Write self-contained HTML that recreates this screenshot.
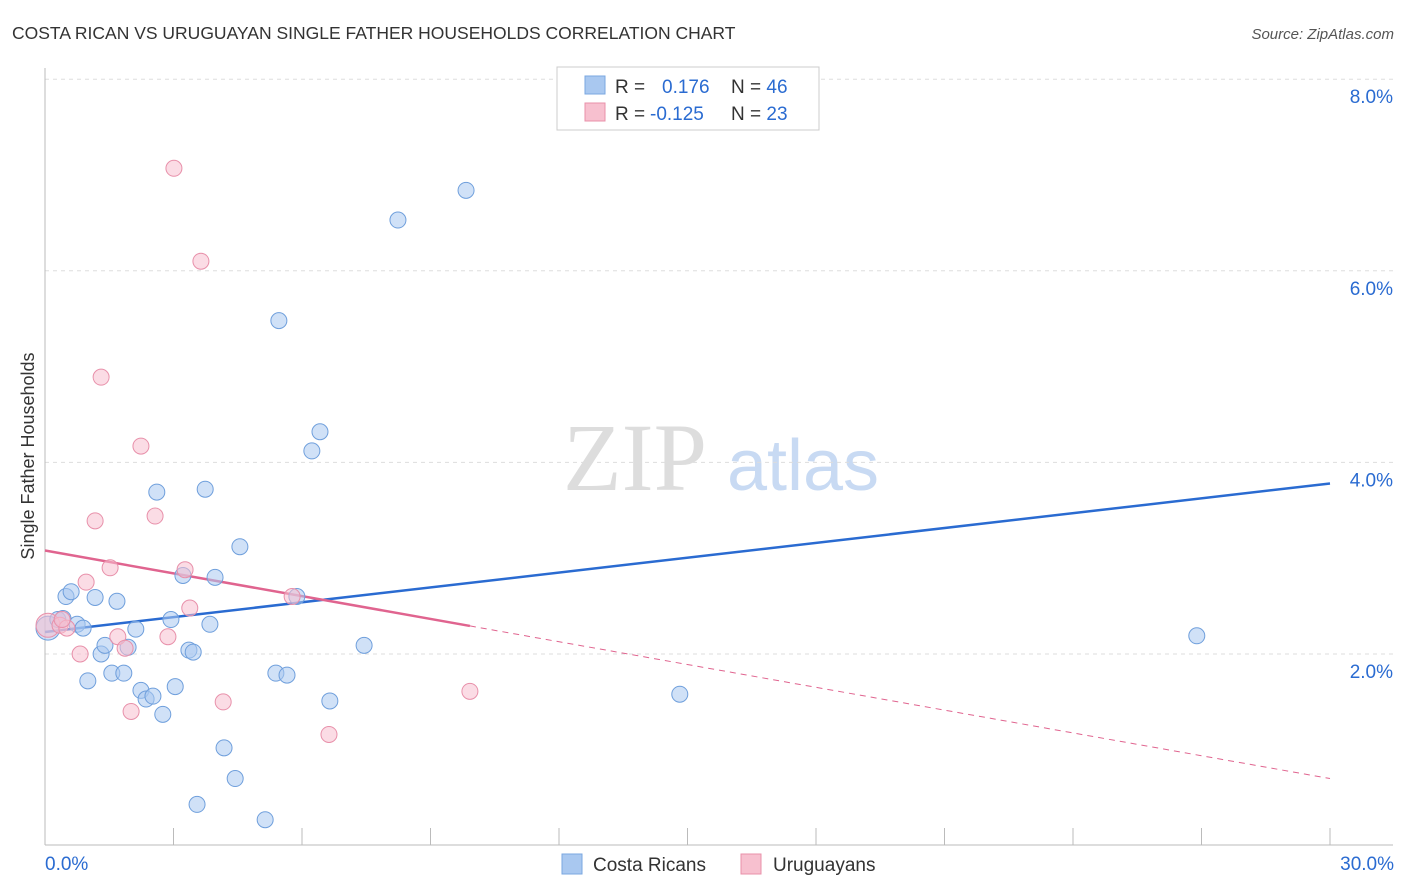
<!DOCTYPE html>
<html><head><meta charset="utf-8"><style>
body{margin:0;background:#fff;font-family:"Liberation Sans",sans-serif;}
svg{display:block}
</style></head><body>
<svg id="chart" width="1406" height="892" viewBox="0 0 1406 892">
<text x="12" y="39" font-size="17.5" fill="#333">COSTA RICAN VS URUGUAYAN SINGLE FATHER HOUSEHOLDS CORRELATION CHART</text>
<text x="1394" y="39" font-size="15" fill="#555" text-anchor="end" font-style="italic">Source: ZipAtlas.com</text>
<g>
<text x="635" y="490" font-size="96" fill="#ddd" font-family="Liberation Serif,serif" text-anchor="middle">ZIP</text>
<text x="803" y="490" font-size="72" fill="#c8daf3" text-anchor="middle">atlas</text>
</g>
<g id="grid"></g><g id="axes"></g><g id="trend"></g><g id="points"></g>
<text transform="translate(34,456) rotate(-90)" font-size="18" fill="#333" text-anchor="middle">Single Father Households</text>
<g>
<rect x="557" y="67" width="262" height="63" fill="#fff" stroke="#ccc"/>
<rect x="585" y="76" width="20" height="18" fill="#a9c8f0" stroke="#7aa7e0"/>
<rect x="585" y="103" width="20" height="18" fill="#f7c0cf" stroke="#e890aa"/>
<text x="615" y="93" font-size="19" fill="#333">R = <tspan fill="#2a6bd1" x="662">0.176</tspan><tspan x="731" fill="#333">N = </tspan><tspan fill="#2a6bd1">46</tspan></text>
<text x="615" y="120" font-size="19" fill="#333">R = <tspan fill="#2a6bd1" x="650">-0.125</tspan><tspan x="731" fill="#333">N = </tspan><tspan fill="#2a6bd1">23</tspan></text>
</g>
<g>
<rect x="562" y="854" width="20" height="20" fill="#a9c8f0" stroke="#7aa7e0"/>
<text x="593" y="871" font-size="19" fill="#333">Costa Ricans</text>
<rect x="741" y="854" width="20" height="20" fill="#f7c0cf" stroke="#e890aa"/>
<text x="773" y="871" font-size="19" fill="#333">Uruguayans</text>
</g>
</svg>
<script>
const blueX=[0.07,0.30,0.42,0.49,0.61,0.75,0.89,1.00,1.17,1.31,1.40,1.56,1.68,1.84,1.94,2.12,2.24,2.36,2.52,2.61,2.75,2.94,3.04,3.22,3.36,3.46,3.74,3.85,3.97,4.18,4.44,4.55,3.55,5.14,5.39,5.46,5.65,5.88,6.23,6.42,6.65,7.45,8.24,9.83,14.82,26.89];
const blueY=[2.27,2.36,2.37,2.60,2.65,2.31,2.27,1.72,2.59,2.00,2.09,1.80,2.55,1.80,2.07,2.26,1.62,1.53,1.56,3.69,1.37,2.36,1.66,2.82,2.04,2.02,3.72,2.31,2.80,1.02,0.70,3.12,0.43,0.27,1.80,5.48,1.78,2.60,4.12,4.32,1.51,2.09,6.53,6.84,1.58,2.19];
const pinkX=[0.07,0.35,0.51,0.82,0.96,1.17,1.31,1.52,1.70,1.87,2.01,2.24,2.57,2.87,3.01,3.27,3.38,3.64,4.16,5.77,6.63,9.92,0.40];
const pinkY=[2.30,2.30,2.27,2.00,2.75,3.39,4.89,2.90,2.18,2.06,1.40,4.17,3.44,2.18,7.07,2.88,2.48,6.10,1.50,2.60,1.16,1.61,2.36];
const blueTrend=[2.23,3.78];   // y at x=0 and x=30
const pinkTrend=[3.08,0.70];   // y at x=0 and x=30
const pinkSolidEnd=9.92;
const yTicks=[2,4,6,8];
const yTickLabels=["2.0%","4.0%","6.0%","8.0%"];
const xTickLabels=["0.0%","30.0%"];

const NS="http://www.w3.org/2000/svg";
const X0=45,X1=1330,Y0=845.6,PX=95.8;
const sx=v=>X0+(v/30)*(X1-X0);
const sy=v=>Y0-v*PX;
function mk(tag,attrs,parent){const e=document.createElementNS(NS,tag);for(const k in attrs)e.setAttribute(k,attrs[k]);parent.appendChild(e);return e;}
const grid=document.getElementById('grid'),axes=document.getElementById('axes'),trend=document.getElementById('trend'),pts=document.getElementById('points');
yTicks.forEach((t,i)=>{
 const l=mk('line',{x1:45,x2:1393,y1:sy(t),y2:sy(t),stroke:'#ddd','stroke-dasharray':'4,4'},grid);
 
 
 const tx=mk('text',{x:1393,y:sy(t)+24,'font-size':19,fill:'#2a6bd1','text-anchor':'end'},axes);
 tx.textContent=yTickLabels[i];
 
 
});
const ax=mk('line',{x1:45,x2:1393,y1:845,y2:845,stroke:'#bbb'},axes);


const ay=mk('line',{x1:45,x2:45,y1:68,y2:845,stroke:'#bbb'},axes);


for(let i=0;i<=10;i++){
 const t=mk('line',{x1:sx(i*3),x2:sx(i*3),y1:828,y2:845,stroke:'#bbb'},axes);
 
 
}
const xl0=mk('text',{x:45,y:870,'font-size':19,fill:'#2a6bd1'},axes);xl0.textContent=xTickLabels[0];


const xl1=mk('text',{x:1394,y:870,'font-size':19,fill:'#2a6bd1','text-anchor':'end'},axes);xl1.textContent=xTickLabels[1];



function drawPts(xs,ys,fill,stroke,name){
 xs.forEach((x,i)=>{
  const r=(i===0)?12:8;
  const c=mk('circle',{cx:sx(x),cy:sy(ys[i]),r:r,fill:fill,'fill-opacity':0.55,stroke:stroke,'stroke-width':1},pts);
  
  
 });
}
drawPts(blueX,blueY,'#a9c8f0','#6f9fdc','point-costa-rican');
drawPts(pinkX,pinkY,'#f7c0cf','#e890aa','point-uruguayan');

const pY=x=>pinkTrend[0]+(pinkTrend[1]-pinkTrend[0])*x/30;
const bl=mk('line',{x1:sx(0),y1:sy(blueTrend[0]),x2:sx(30),y2:sy(blueTrend[1]),stroke:'#2a6bd1','stroke-width':2.5},trend);


const pl=mk('line',{x1:sx(0),y1:sy(pY(0)),x2:sx(pinkSolidEnd),y2:sy(pY(pinkSolidEnd)),stroke:'#e0648f','stroke-width':2.5},trend);


const pd=mk('line',{x1:sx(pinkSolidEnd),y1:sy(pY(pinkSolidEnd)),x2:sx(30),y2:sy(pY(30)),stroke:'#e0648f','stroke-width':1,'stroke-dasharray':'6,5'},trend);


</script>
</body></html>
